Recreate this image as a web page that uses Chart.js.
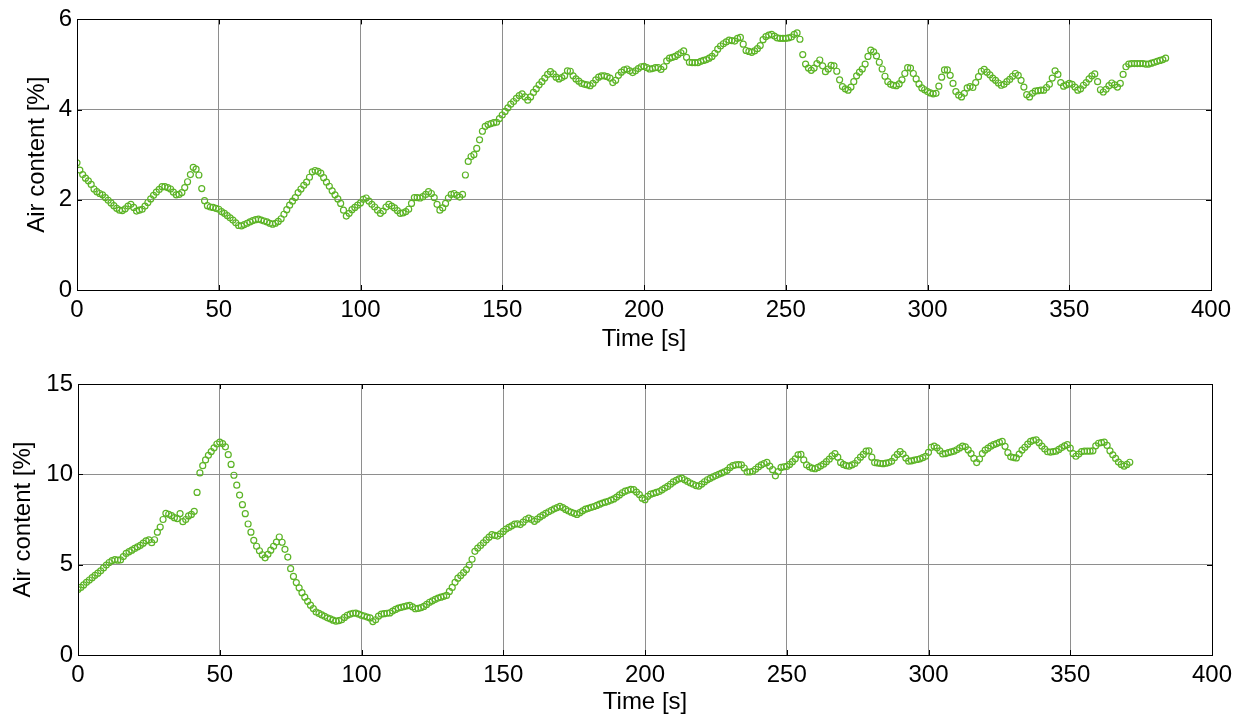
<!DOCTYPE html>
<html>
<head>
<meta charset="utf-8">
<title>Air content over time</title>
<script src="https://cdn.jsdelivr.net/npm/chart.js@4.4.1/dist/chart.umd.min.js"></script>
<style>
  html, body { margin: 0; padding: 0; background: #ffffff; }
  body { width: 1248px; height: 719px; position: relative; overflow: hidden; }
  canvas { position: absolute; left: 0; }
  #topChart { top: 0; }
  #bottomChart { top: 360px; }
</style>
</head>
<body>
<canvas id="topChart" width="1248" height="360"></canvas>
<canvas id="bottomChart" width="1248" height="359"></canvas>
<script>
// Air content [%], one reading per second, first run (0 ... 384 s)
const airTop = [
  2.82,2.66,2.56,2.48,2.42,2.34,2.24,2.18,2.14,2.11,
  2.05,1.99,1.93,1.87,1.81,1.77,1.76,1.80,1.86,1.90,
  1.83,1.75,1.77,1.79,1.86,1.94,2.02,2.10,2.17,2.23,
  2.29,2.29,2.27,2.24,2.17,2.11,2.12,2.16,2.27,2.40,
  2.56,2.72,2.68,2.55,2.25,1.98,1.87,1.84,1.83,1.81,
  1.79,1.74,1.70,1.65,1.60,1.55,1.49,1.43,1.42,1.45,
  1.48,1.51,1.54,1.56,1.57,1.55,1.53,1.51,1.48,1.46,
  1.48,1.52,1.58,1.68,1.78,1.88,1.97,2.05,2.16,2.24,
  2.32,2.39,2.50,2.62,2.65,2.63,2.59,2.49,2.39,2.30,
  2.20,2.11,2.02,1.92,1.77,1.64,1.70,1.78,1.83,1.88,
  1.93,2.01,2.04,1.97,1.90,1.84,1.77,1.70,1.75,1.84,
  1.90,1.86,1.82,1.76,1.70,1.71,1.74,1.79,1.92,2.05,
  2.05,2.04,2.07,2.12,2.18,2.14,2.05,1.90,1.77,1.82,
  1.92,2.04,2.12,2.14,2.10,2.06,2.12,2.55,2.85,2.96,
  3.00,3.14,3.33,3.52,3.63,3.67,3.69,3.71,3.72,3.80,
  3.88,3.96,4.04,4.12,4.18,4.25,4.31,4.35,4.28,4.21,
  4.28,4.38,4.46,4.55,4.62,4.70,4.78,4.84,4.79,4.72,
  4.68,4.71,4.75,4.86,4.85,4.75,4.68,4.63,4.58,4.56,
  4.55,4.53,4.58,4.66,4.72,4.75,4.75,4.73,4.70,4.60,
  4.65,4.76,4.83,4.88,4.90,4.86,4.82,4.86,4.91,4.95,
  4.96,4.93,4.90,4.91,4.93,4.93,4.89,4.95,5.08,5.14,
  5.16,5.18,5.22,5.26,5.30,5.16,5.05,5.04,5.04,5.04,
  5.07,5.09,5.11,5.14,5.18,5.25,5.34,5.41,5.46,5.50,
  5.54,5.53,5.52,5.58,5.60,5.45,5.31,5.29,5.27,5.30,
  5.35,5.42,5.55,5.62,5.65,5.67,5.63,5.59,5.58,5.58,
  5.58,5.59,5.61,5.67,5.70,5.56,5.22,5.01,4.92,4.87,
  4.92,5.02,5.10,4.97,4.84,4.90,4.98,4.97,4.85,4.66,
  4.51,4.46,4.43,4.50,4.62,4.75,4.83,4.90,5.01,5.18,
  5.32,5.28,5.19,5.05,4.90,4.74,4.62,4.56,4.54,4.53,
  4.57,4.66,4.80,4.93,4.92,4.80,4.68,4.57,4.48,4.44,
  4.40,4.37,4.35,4.36,4.52,4.72,4.88,4.88,4.76,4.58,
  4.40,4.32,4.28,4.36,4.48,4.51,4.49,4.60,4.73,4.85,
  4.89,4.83,4.77,4.70,4.65,4.59,4.54,4.56,4.62,4.67,
  4.74,4.80,4.76,4.65,4.50,4.33,4.28,4.36,4.41,4.42,
  4.43,4.43,4.49,4.56,4.70,4.86,4.78,4.60,4.52,4.55,
  4.58,4.56,4.50,4.43,4.46,4.54,4.60,4.68,4.75,4.79,
  4.62,4.44,4.39,4.45,4.53,4.59,4.55,4.50,4.58,4.78,
  4.95,5.01,5.02,5.02,5.02,5.02,5.02,5.01,5.01,5.03,
  5.05,5.07,5.09,5.11,5.14
];

// Air content [%], one reading per second, second run (0 ... 371 s)
const airBottom = [
  3.62,3.74,3.88,4.02,4.15,4.28,4.41,4.53,4.66,4.82,
  4.98,5.12,5.22,5.28,5.25,5.26,5.45,5.62,5.72,5.80,
  5.90,5.98,6.07,6.19,6.32,6.37,6.22,6.38,6.80,7.08,
  7.50,7.84,7.79,7.71,7.60,7.55,7.83,7.38,7.50,7.70,
  7.78,7.95,9.00,10.08,10.48,10.80,11.05,11.26,11.47,11.68,
  11.78,11.70,11.52,11.09,10.55,9.95,9.40,8.85,8.32,7.82,
  7.25,6.80,6.35,6.02,5.77,5.55,5.38,5.57,5.80,6.02,
  6.25,6.53,6.24,5.85,5.42,4.78,4.35,4.01,3.72,3.45,
  3.20,2.97,2.76,2.57,2.38,2.30,2.22,2.14,2.06,2.00,
  1.93,1.87,1.90,1.95,2.08,2.20,2.26,2.31,2.32,2.26,
  2.20,2.16,2.10,2.05,1.85,1.95,2.15,2.26,2.29,2.31,
  2.33,2.43,2.52,2.60,2.64,2.68,2.72,2.75,2.66,2.56,
  2.58,2.62,2.69,2.80,2.92,3.00,3.08,3.15,3.20,3.25,
  3.30,3.52,3.74,4.02,4.25,4.40,4.56,4.73,4.98,5.30,
  5.74,5.92,6.06,6.21,6.37,6.52,6.66,6.62,6.58,6.70,
  6.84,6.97,7.06,7.15,7.24,7.26,7.22,7.35,7.50,7.58,
  7.50,7.40,7.52,7.64,7.74,7.84,7.93,8.01,8.09,8.16,
  8.23,8.16,8.06,7.97,7.90,7.84,7.78,7.88,7.98,8.07,
  8.12,8.17,8.22,8.28,8.35,8.41,8.46,8.51,8.57,8.64,
  8.74,8.86,8.98,9.07,9.12,9.17,9.15,9.02,8.88,8.68,
  8.60,8.78,8.90,8.95,9.00,9.05,9.14,9.24,9.33,9.45,
  9.58,9.67,9.75,9.79,9.70,9.61,9.52,9.45,9.38,9.35,
  9.46,9.59,9.70,9.78,9.86,9.93,10.00,10.07,10.14,10.22,
  10.38,10.48,10.52,10.54,10.52,10.35,10.14,10.13,10.17,10.28,
  10.41,10.52,10.60,10.66,10.45,10.26,9.92,10.15,10.38,10.42,
  10.44,10.55,10.70,10.86,11.08,11.10,10.80,10.52,10.42,10.34,
  10.31,10.38,10.47,10.56,10.70,10.84,11.02,11.15,10.95,10.66,
  10.55,10.48,10.45,10.52,10.60,10.78,10.95,11.10,11.28,11.30,
  10.95,10.65,10.63,10.60,10.59,10.62,10.65,10.72,10.92,11.10,
  11.26,11.12,10.90,10.73,10.75,10.79,10.82,10.86,10.92,11.00,
  11.22,11.50,11.56,11.47,11.30,11.13,11.15,11.20,11.24,11.28,
  11.36,11.46,11.56,11.52,11.35,11.15,10.88,10.65,10.85,11.15,
  11.34,11.45,11.56,11.64,11.70,11.77,11.82,11.55,11.20,10.97,
  10.93,10.91,11.12,11.34,11.50,11.67,11.82,11.88,11.91,11.75,
  11.56,11.40,11.25,11.23,11.26,11.28,11.38,11.48,11.58,11.64,
  11.45,11.15,11.00,11.12,11.26,11.28,11.28,11.28,11.30,11.58,
  11.72,11.76,11.78,11.60,11.30,11.08,10.88,10.68,10.55,10.45,
  10.55,10.67
];

// Axis tick positions
const timeTicks = [0, 50, 100, 150, 200, 250, 300, 350, 400];
const airTicksTop = [0, 2, 4, 6];
const airTicksBottom = [0, 5, 10, 15];

const sampleStep = 1; // seconds between readings

const markerColor = 'rgb(92,180,38)';
const gridColor = '#8e8e8e';
const fontFamily = '"Liberation Sans", Arial, Helvetica, sans-serif';

// Closed box around the plot area with short inward tick marks (MATLAB-style axes)
const boxFrame = {
  id: 'boxFrame',
  afterDraw(chart) {
    const { ctx, chartArea: a, scales: { x, y } } = chart;
    ctx.save();
    ctx.strokeStyle = '#000';
    ctx.lineWidth = 1;
    ctx.strokeRect(Math.round(a.left) + 0.5, Math.round(a.top) + 0.5,
                   Math.round(a.right - a.left), Math.round(a.bottom - a.top));
    ctx.beginPath();
    const len = 5;
    x.ticks.forEach(t => {
      const px = Math.round(x.getPixelForValue(t.value)) + 0.5;
      ctx.moveTo(px, a.bottom); ctx.lineTo(px, a.bottom - len);
      ctx.moveTo(px, a.top); ctx.lineTo(px, a.top + len);
    });
    y.ticks.forEach(t => {
      const py = Math.round(y.getPixelForValue(t.value)) + 0.5;
      ctx.moveTo(a.left, py); ctx.lineTo(a.left + len, py);
      ctx.moveTo(a.right, py); ctx.lineTo(a.right - len, py);
    });
    ctx.stroke();
    ctx.restore();
  }
};

function toPoints(values) {
  return values.map((v, i) => ({ x: i * sampleStep, y: v }));
}

function makeChart(canvasId, values, yTicks, yMax, geom) {
  const ctx = document.getElementById(canvasId);
  return new Chart(ctx, {
    type: 'scatter',
    data: {
      datasets: [{
        data: toPoints(values),
        showLine: false,
        pointStyle: 'circle',
        pointRadius: 3,
        pointHoverRadius: 3,
        pointBorderWidth: 1.2,
        pointBorderColor: markerColor,
        pointBackgroundColor: 'rgba(0,0,0,0)'
      }]
    },
    options: {
      responsive: false,
      animation: false,
      devicePixelRatio: 1,
      layout: { padding: { left: 0, right: geom.padRight, top: geom.padTop, bottom: 0 } },
      plugins: { legend: { display: false }, tooltip: { enabled: false } },
      scales: {
        x: {
          type: 'linear',
          min: 0,
          max: 400,
          afterBuildTicks: s => { s.ticks = timeTicks.map(v => ({ value: v })); },
          afterFit: s => { s.height = geom.xHeight; },
          ticks: { color: '#000', padding: geom.xTickPad, font: { family: fontFamily, size: 24 }, maxRotation: 0 },
          grid: { color: gridColor, lineWidth: 1, drawTicks: false },
          border: { display: false },
          title: {
            display: true, text: 'Time [s]', color: '#000',
            font: { family: fontFamily, size: 24 },
            padding: { top: 0, bottom: geom.xTitlePad }
          }
        },
        y: {
          type: 'linear',
          min: 0,
          max: yMax,
          afterBuildTicks: s => { s.ticks = yTicks.map(v => ({ value: v })); },
          afterFit: s => { s.width = geom.yWidth; },
          ticks: { color: '#000', padding: 5, font: { family: fontFamily, size: 24 } },
          grid: { color: gridColor, lineWidth: 1, drawTicks: false },
          border: { display: false },
          title: {
            display: true, text: 'Air content [%]', color: '#000',
            font: { family: fontFamily, size: 24 },
            padding: { top: geom.yTitlePad, bottom: 0 }
          }
        }
      }
    },
    plugins: [boxFrame]
  });
}

makeChart('topChart', airTop, airTicksTop, 6, {
  padRight: 37, padTop: 18, xHeight: 70, yWidth: 77,
  xTickPad: 6, xTitlePad: 6, yTitlePad: 23
});

makeChart('bottomChart', airBottom, airTicksBottom, 15, {
  padRight: 36, padTop: 24, xHeight: 64, yWidth: 78,
  xTickPad: 6, xTitlePad: 2, yTitlePad: 9
});
</script>
</body>
</html>
